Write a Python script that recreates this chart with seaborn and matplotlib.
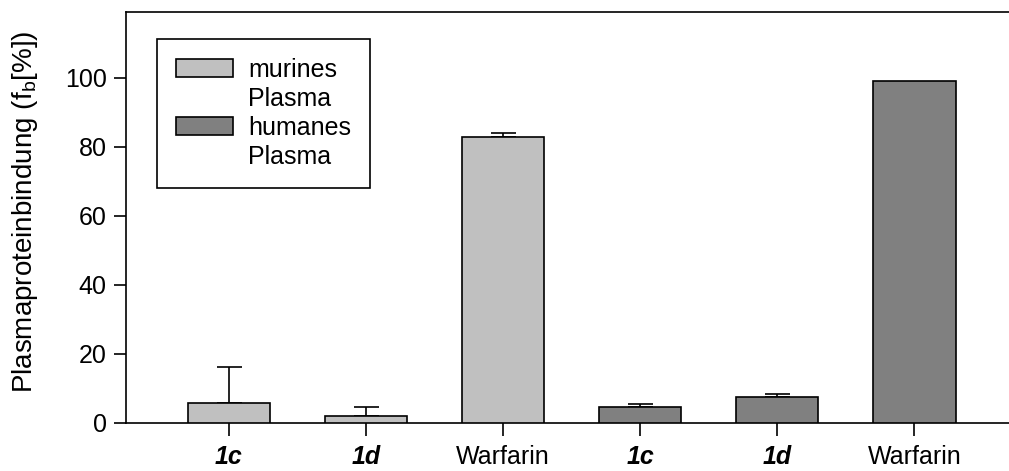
import matplotlib
matplotlib.use("Agg")
import matplotlib.pyplot as plt
from matplotlib.patches import Patch
import seaborn as sns
import pandas as pd

# ---- data ----
keys = ["m_1c", "m_1d", "m_warf", "h_1c", "h_1d", "h_warf"]
tick_labels = ["1c", "1d", "Warfarin", "1c", "1d", "Warfarin"]
groups = ["murines Plasma"] * 3 + ["humanes Plasma"] * 3
values = [5.7, 1.9, 82.9, 4.6, 7.5, 98.9]
errors = [10.6, 2.6, 1.0, 0.9, 1.0, 0.0]
legend_labels = ["murines", "Plasma", "humanes", "Plasma"]
colors = {"murines Plasma": "#C0C0C0", "humanes Plasma": "#808080"}
yticks = [0, 20, 40, 60, 80, 100]

sns.set_style("ticks")
plt.rcParams["font.family"] = ["Liberation Sans", "DejaVu Sans"]
plt.rcParams["mathtext.fontset"] = "custom"
plt.rcParams["mathtext.rm"] = "Liberation Sans"
plt.rcParams["mathtext.it"] = "Liberation Sans:italic"
plt.rcParams["text.color"] = "black"
plt.rcParams["axes.labelcolor"] = "black"

FS = 18

df = pd.DataFrame({"key": keys, "val": values, "grp": groups})

fig = plt.figure(figsize=(10.09, 4.71), dpi=100)
ax = fig.add_axes([126 / 1009, 48 / 471, 1 - 126 / 1009, 411 / 471])

sns.barplot(data=df, x="key", y="val", hue="grp", order=keys, dodge=False,
            palette=colors, width=0.6, edgecolor="black", linewidth=1.2,
            errorbar=None, ax=ax, legend=False, zorder=3)

xs = list(range(len(keys)))
ex = [x for x, e in zip(xs, errors) if e > 0]
ev = [v for v, e in zip(values, errors) if e > 0]
ee = [e for e in errors if e > 0]
ax.errorbar(ex, ev, yerr=[[0] * len(ee), ee], fmt="none",
            ecolor="black", elinewidth=1.2, capsize=9, capthick=1.2, zorder=2)

ax.set_xlim(-0.75, 5.69)
ax.set_ylim(0, 119)
ax.set_yticks(yticks)
ax.set_xticks(xs)
ax.set_xticklabels(tick_labels, fontsize=FS)
for t, lab in zip(ax.get_xticklabels(), tick_labels):
    if lab != "Warfarin":
        t.set_fontweight("bold")
        t.set_fontstyle("italic")
ax.tick_params(axis="both", labelsize=FS, length=9, width=1.2, direction="out",
               color="black", labelcolor="black", pad=5)
ax.tick_params(axis="x", pad=7)
ax.set_xlabel("")
ax.set_ylabel(r"Plasmaproteinbindung (f$_\mathregular{b}$[%])", fontsize=20, color="black")
ax.yaxis.set_label_coords(-86 / 883, 0.513)

for s in ["left", "bottom", "top"]:
    ax.spines[s].set_color("black")
    ax.spines[s].set_linewidth(1.2)
ax.spines["right"].set_visible(False)
ax.spines["top"].set_visible(True)

handles = [Patch(facecolor=colors["murines Plasma"], edgecolor="black", linewidth=1.2),
           Patch(facecolor="none", edgecolor="none"),
           Patch(facecolor=colors["humanes Plasma"], edgecolor="black", linewidth=1.2),
           Patch(facecolor="none", edgecolor="none")]
leg = ax.legend(handles, legend_labels, loc="upper left", bbox_to_anchor=(0.035, 0.934),
                borderaxespad=0, fontsize=FS, frameon=True, fancybox=False,
                edgecolor="black", framealpha=1, handlelength=2.3, handleheight=0.75,
                labelspacing=0.2, borderpad=0.75, handletextpad=0.6, labelcolor="black")
leg.get_frame().set_linewidth(1.2)

fig.savefig("out.png", dpi=100)
